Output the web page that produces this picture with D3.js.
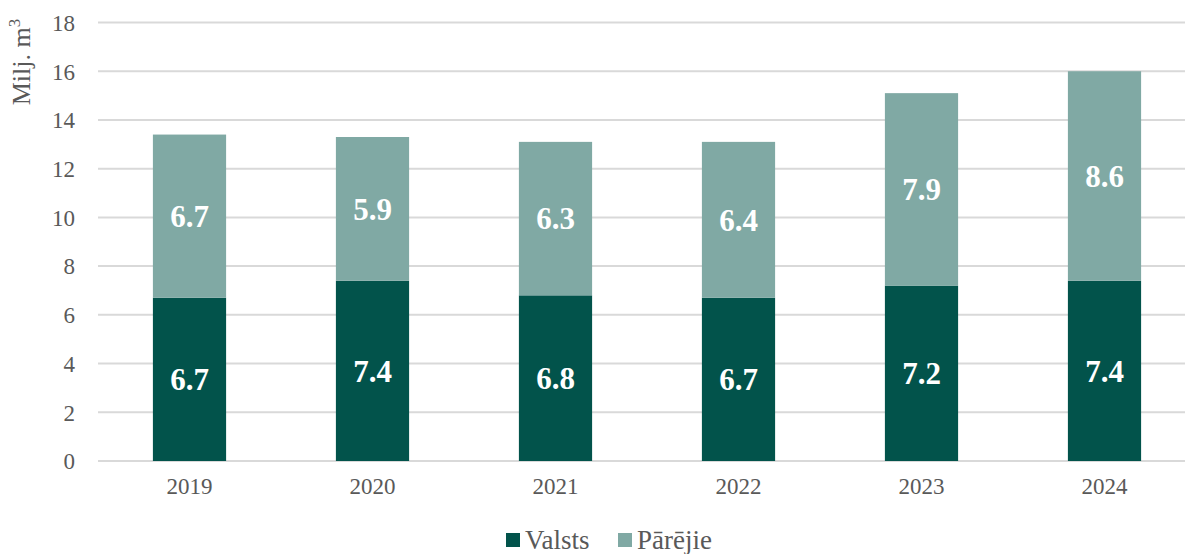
<!DOCTYPE html>
<html><head><meta charset="utf-8">
<script src="https://cdn.jsdelivr.net/npm/d3@7/dist/d3.min.js"></script>
<style>body{margin:0;background:#fff}svg{display:block}</style>
</head><body>
<svg id="c" width="1185" height="554"></svg>
<script>
const years = ["2019","2020","2021","2022","2023","2024"];
const valsts = [6.7, 7.4, 6.8, 6.7, 7.2, 7.4];
const parejie = [6.7, 5.9, 6.3, 6.4, 7.9, 8.6];
const yTicks = [0,2,4,6,8,10,12,14,16,18];
const seriesNames = ["Valsts","Pārējie"];
const colors = ["#02534b","#80a9a4"];

const svg = d3.select("#c");
const font = "'Liberation Serif','Times New Roman',serif";
const x = d3.scaleBand().domain(years).range([98,1196]).paddingInner(0.6).paddingOuter(0.3);
const y = d3.scaleLinear().domain([0,18]).range([461,22.5]);

// grid
svg.append("g").selectAll("line").data(yTicks).join("line")
  .attr("x1",98).attr("x2",1185)
  .attr("y1",d=>y(d)).attr("y2",d=>y(d))
  .attr("stroke","#d9d9d9").attr("stroke-width",2);

// y axis labels
const yAxis = d3.axisLeft(y).tickValues(yTicks).tickSize(0).tickPadding(0).tickFormat(d3.format("d"));
const ga = svg.append("g").attr("transform","translate(75,0)").call(yAxis);
ga.select(".domain").remove();
ga.selectAll("text").attr("font-family",font).attr("font-size",23).attr("fill","#595959").attr("dy","0.34em");

// x axis labels
const xAxis = d3.axisBottom(x).tickSize(0).tickPadding(0);
const gx = svg.append("g").attr("transform","translate(0,478)").call(xAxis);
gx.select(".domain").remove();
gx.selectAll("text").attr("font-family",font).attr("font-size",23).attr("fill","#595959").attr("dy","0.71em");

const data = years.map((yr,i)=>({year:yr, Valsts:valsts[i], "Pārējie":parejie[i]}));
const stacked = d3.stack().keys(seriesNames)(data);

const groups = svg.append("g").selectAll("g").data(stacked).join("g").attr("fill",(d,i)=>colors[i]);
groups.selectAll("rect").data(d=>d).join("rect")
  .attr("x",d=>x(d.data.year)).attr("width",x.bandwidth())
  .attr("y",d=>y(d[1])).attr("height",d=>y(d[0])-y(d[1]));

const lg = svg.append("g");
stacked.forEach(s=>{
  lg.selectAll(null).data(s).join("text")
    .attr("x",d=>x(d.data.year)+x.bandwidth()/2)
    .attr("y",d=>y((d[0]+d[1])/2))
    .attr("dy","0.35em").attr("text-anchor","middle")
    .attr("font-family",font).attr("font-weight","bold").attr("font-size",31).attr("fill","#fff")
    .text(d=>d3.format(".1f")(d[1]-d[0]));
});

// y title
svg.append("text").attr("transform","translate(30,62) rotate(-90)")
  .attr("text-anchor","middle").attr("font-family",font).attr("font-size",26).attr("fill","#595959")
  .html('Milj. m<tspan dy="-10" font-size="17">3</tspan>');

// legend
const legX = [506, 618];
seriesNames.forEach((n,i)=>{
  svg.append("rect").attr("x",legX[i]).attr("y",533).attr("width",14).attr("height",14).attr("fill",colors[i]);
  svg.append("text").attr("x",legX[i]+19).attr("y",549).attr("font-family",font).attr("font-size",27).attr("fill","#595959").text(n);
});
</script>
</body></html>
